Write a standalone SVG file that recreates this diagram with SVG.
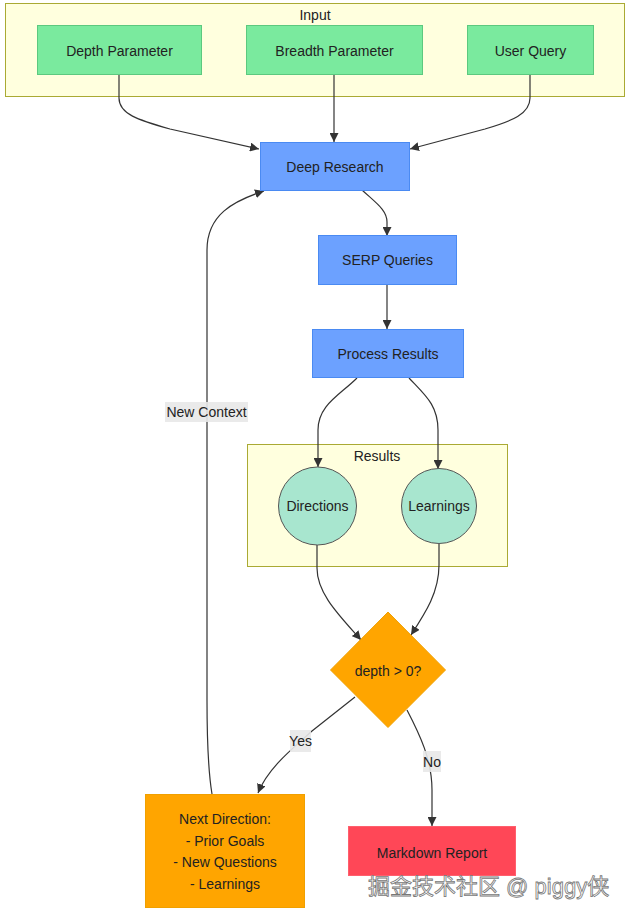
<svg xmlns="http://www.w3.org/2000/svg" width="634" height="914" viewBox="0 0 634 914">
<defs>
<style>
text{font-family:"Liberation Sans",Arial,sans-serif;font-size:14px;fill:#222;text-anchor:middle;dominant-baseline:central}
.cluster{fill:#ffffde;stroke:#aaaa33;stroke-width:1}
.green{fill:#7aea9e;stroke:#5cc97f;stroke-width:1}
.blue{fill:#6ca1ff;stroke:#4a8af2;stroke-width:1}
.circ{fill:#a8e6cf;stroke:#555;stroke-width:1}
.orange{fill:#ffa500;stroke:#f0a000;stroke-width:1}
.red{fill:#ff4757;stroke:#ff5f6d;stroke-width:1}
.edge{fill:none;stroke:#333;stroke-width:1.2;marker-end:url(#arrow)}
.lbl{fill:#e8e8e8;opacity:0.9}
.wm{font-size:22px;fill:#fff;stroke:#777;stroke-width:0.8;text-anchor:start;font-family:"Liberation Sans","Noto Sans CJK SC",sans-serif}
</style>
<marker id="arrow" viewBox="0 0 10 10" refX="10" refY="5" markerWidth="9" markerHeight="9" markerUnits="userSpaceOnUse" orient="auto">
<path d="M0,0 L10,5 L0,10 z" fill="#333"/>
</marker>
</defs>

<g id="cluster-input">
<rect class="cluster" x="5.5" y="3.5" width="619" height="93"/>
<text x="315" y="15">Input</text>
</g>
<g id="cluster-results">
<rect class="cluster" x="247.5" y="444.5" width="260" height="122"/>
<text x="377" y="456">Results</text>
</g>

<g id="connectors">
<path class="edge" d="M119,74 V98 C119,114 138,120 170,129 L259,149"/>
<path class="edge" d="M334,74 V142"/>
<path class="edge" d="M530,74 V98 C530,114 512,121 485,129 L410,149"/>
<path class="edge" d="M362,190 C376,203 387,210 387,222 V236"/>
<path class="edge" d="M387,284 V329"/>
<path class="edge" d="M357,378 C340,395 318,405 318,430 V467"/>
<path class="edge" d="M409,378 C425,395 438,405 438,430 V469"/>
<path class="edge" d="M317,545 V568 C317,594 340,616 361,640"/>
<path class="edge" d="M439,544 V565 C439,592 426,612 411,635"/>
<path class="edge" d="M355,697 L312,731 C292,749 268,768 258,793"/>
<path class="edge" d="M407,710 C420,735 432,760 432,790 V826"/>
<path class="edge" d="M212,794 C208,770 207,740 207,700 V250 C207,215 233,201 264,191"/>
<rect class="lbl" x="165" y="402" width="83" height="20"/>
<text x="206.5" y="412">New Context</text>
<rect class="lbl" x="290" y="730" width="21" height="22"/>
<text x="300.5" y="741">Yes</text>
<rect class="lbl" x="423" y="751" width="18" height="21"/>
<text x="432" y="762">No</text>
</g>

<g id="node-depth">
<rect class="green" x="37.5" y="25.5" width="164" height="49"/>
<text x="119.5" y="51">Depth Parameter</text>
</g>
<g id="node-breadth">
<rect class="green" x="246.5" y="25.5" width="176" height="49"/>
<text x="334.5" y="51">Breadth Parameter</text>
</g>
<g id="node-query">
<rect class="green" x="467.5" y="25.5" width="126" height="49"/>
<text x="530.5" y="51">User Query</text>
</g>
<g id="node-deep">
<rect class="blue" x="260.5" y="142.5" width="149" height="48"/>
<text x="335" y="167">Deep Research</text>
</g>
<g id="node-serp">
<rect class="blue" x="318.5" y="235.5" width="138" height="49"/>
<text x="387.5" y="260">SERP Queries</text>
</g>
<g id="node-process">
<rect class="blue" x="312.5" y="329.5" width="151" height="48"/>
<text x="388" y="354">Process Results</text>
</g>
<g id="node-directions">
<circle class="circ" cx="317.5" cy="506" r="39"/>
<text x="317.5" y="506">Directions</text>
</g>
<g id="node-learnings">
<circle class="circ" cx="439" cy="506" r="37.5"/>
<text x="439" y="506">Learnings</text>
</g>
<g id="node-decision">
<polygon class="orange" points="388,612 445.5,670 388,727.5 330.5,670"/>
<text x="388" y="671">depth &gt; 0?</text>
</g>
<g id="node-next">
<rect class="orange" x="145.5" y="794.5" width="159" height="113"/>
<text x="225" y="819">Next Direction:</text>
<text x="225" y="841">- Prior Goals</text>
<text x="225" y="862">- New Questions</text>
<text x="225" y="884">- Learnings</text>
</g>
<g id="node-report">
<rect class="red" x="348.5" y="826.5" width="167" height="49"/>
<text x="432" y="853">Markdown Report</text>
</g>

<text class="wm" x="368" y="886">掘金技术社区 @ piggy侠</text>
</svg>
